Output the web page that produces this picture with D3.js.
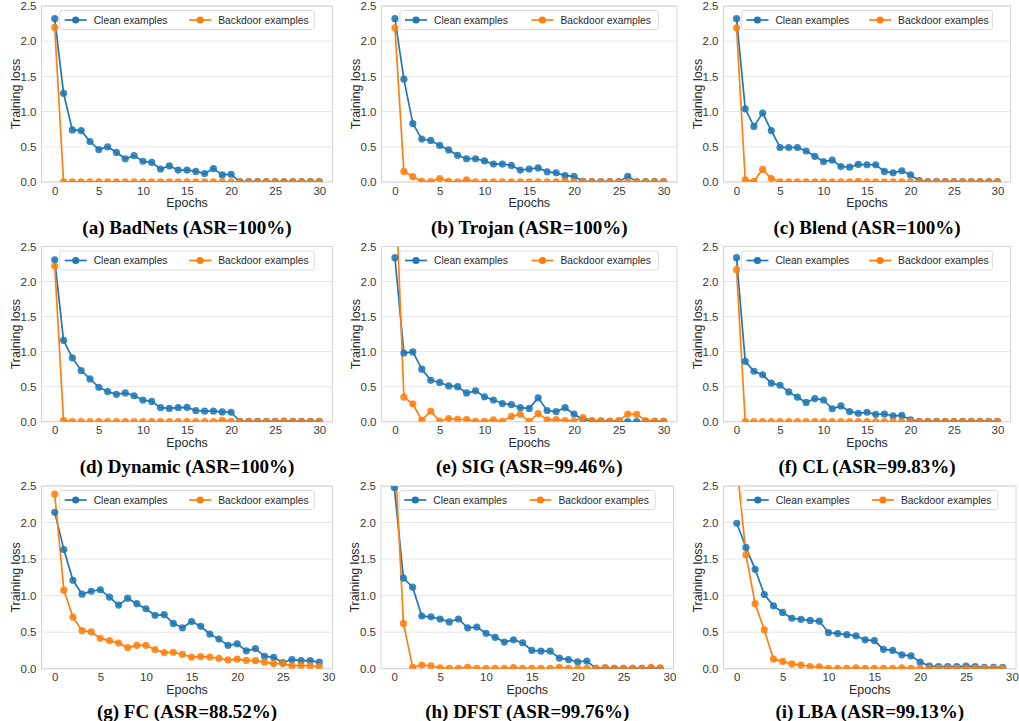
<!DOCTYPE html>
<html>
<head>
<meta charset="utf-8">
<script src="https://cdn.jsdelivr.net/npm/d3@7"></script>
<style>
  html, body { margin: 0; padding: 0; background: #fff; }
  svg { display: block; }
</style>
</head>
<body>
<svg id="chart" width="1019" height="721"></svg>
<script>
// ---------------- DATA ----------------
const captions = [
  "(a) BadNets (ASR=100%)", "(b) Trojan (ASR=100%)", "(c) Blend (ASR=100%)",
  "(d) Dynamic (ASR=100%)", "(e) SIG (ASR=99.46%)", "(f) CL (ASR=99.83%)",
  "(g) FC (ASR=88.52%)", "(h) DFST (ASR=99.76%)", "(i) LBA (ASR=99.13%)"
];
const seriesNames = ["Clean examples", "Backdoor examples"];
const yTicks = [0.0, 0.5, 1.0, 1.5, 2.0, 2.5];
const xTicks = [0, 5, 10, 15, 20, 25, 30];

const badnetsClean = [2.32,1.26,0.74,0.73,0.575,0.46,0.50,0.42,0.33,0.375,0.295,0.28,0.185,0.23,0.17,0.17,0.15,0.12,0.19,0.10,0.11,0.005,0.005,0.005,0.005,0.005,0.005,0.005,0.005,0.005,0.005];
const badnetsBackdoor = [2.195,0.003,0.003,0.003,0.003,0.003,0.003,0.003,0.003,0.003,0.003,0.003,0.003,0.003,0.003,0.003,0.003,0.003,0.003,0.003,0.003,0.003,0.003,0.003,0.003,0.003,0.003,0.003,0.003,0.003,0.003];

const trojanClean = [2.32,1.46,0.83,0.61,0.59,0.52,0.455,0.38,0.33,0.33,0.30,0.255,0.255,0.235,0.17,0.185,0.20,0.145,0.13,0.09,0.08,0.01,0.005,0.005,0.005,0.005,0.08,0.005,0.005,0.005,0.005];
const trojanBackdoor = [2.19,0.15,0.075,0.01,0.005,0.05,0.01,0.003,0.03,0.003,0.003,0.003,0.003,0.003,0.003,0.003,0.003,0.003,0.003,0.01,0.003,0.003,0.003,0.003,0.003,0.003,0.003,0.003,0.003,0.003,0.003];

const blendClean = [2.32,1.04,0.79,0.98,0.73,0.49,0.49,0.49,0.44,0.365,0.29,0.31,0.22,0.21,0.25,0.245,0.245,0.15,0.13,0.16,0.10,0.02,0.005,0.005,0.005,0.005,0.005,0.005,0.005,0.005,0.005];
const blendBackdoor = [2.19,0.03,0.01,0.18,0.05,0.003,0.003,0.003,0.003,0.003,0.003,0.003,0.003,0.003,0.01,0.003,0.003,0.003,0.003,0.003,0.003,0.003,0.003,0.003,0.003,0.003,0.003,0.003,0.003,0.003,0.003];

const dynamicClean = [2.31,1.16,0.91,0.73,0.61,0.49,0.43,0.39,0.41,0.37,0.31,0.29,0.20,0.19,0.20,0.205,0.16,0.15,0.15,0.14,0.135,0.005,0.005,0.005,0.005,0.005,0.005,0.005,0.005,0.005,0.005];
const dynamicBackdoor = [2.22,0.02,0.003,0.003,0.003,0.003,0.003,0.003,0.003,0.003,0.003,0.003,0.003,0.003,0.003,0.003,0.003,0.003,0.003,0.02,0.005,0.003,0.003,0.003,0.003,0.003,0.01,0.003,0.003,0.003,0.003];

const sigClean = [2.34,0.98,0.995,0.75,0.59,0.56,0.51,0.50,0.41,0.44,0.355,0.31,0.26,0.245,0.20,0.19,0.34,0.16,0.145,0.20,0.11,0.03,0.01,0.005,0.005,0.005,0.002,0.002,0.002,0.002,0.002];
const sigBackdoor = [3.6,0.35,0.255,0.02,0.15,0.01,0.045,0.035,0.03,0.005,0.005,0.025,0.005,0.075,0.105,0.005,0.115,0.025,0.03,0.015,0.01,0.06,0.015,0.015,0.01,0.015,0.11,0.105,0.015,0.01,0.01];

const clClean = [2.34,0.86,0.72,0.67,0.55,0.52,0.425,0.35,0.275,0.33,0.31,0.185,0.225,0.145,0.12,0.135,0.105,0.11,0.085,0.09,0.025,0.005,0.005,0.005,0.005,0.005,0.005,0.005,0.005,0.005,0.005];
const clBackdoor = [2.17,0.003,0.003,0.003,0.003,0.003,0.003,0.003,0.003,0.003,0.003,0.003,0.003,0.003,0.003,0.003,0.003,0.003,0.003,0.003,0.003,0.003,0.003,0.003,0.003,0.003,0.003,0.003,0.003,0.003,0.003];

const fcClean = [2.14,1.63,1.21,1.02,1.06,1.08,0.98,0.87,0.965,0.89,0.82,0.73,0.74,0.62,0.56,0.645,0.58,0.475,0.405,0.32,0.34,0.245,0.275,0.17,0.155,0.085,0.125,0.11,0.11,0.09];
const fcBackdoor = [2.39,1.075,0.705,0.52,0.505,0.415,0.385,0.35,0.29,0.32,0.32,0.26,0.22,0.225,0.195,0.16,0.165,0.16,0.14,0.12,0.13,0.115,0.11,0.09,0.07,0.07,0.04,0.045,0.04,0.03];

const dfstClean = [2.48,1.24,1.115,0.72,0.71,0.68,0.64,0.68,0.56,0.57,0.485,0.43,0.365,0.395,0.355,0.25,0.24,0.24,0.145,0.125,0.095,0.105,0.005,0.005,0.005,0.005,0.005,0.005,0.005,0.005];
const dfstBackdoor = [3.1,0.62,0.02,0.05,0.04,0.01,0.005,0.005,0.02,0.005,0.005,0.005,0.005,0.015,0.005,0.005,0.005,0.005,0.02,0.005,0.005,0.005,0.005,0.015,0.005,0.005,0.005,0.005,0.02,0.01];

const lbaClean = [1.99,1.66,1.36,1.015,0.86,0.77,0.69,0.675,0.66,0.65,0.495,0.48,0.465,0.45,0.395,0.385,0.265,0.25,0.19,0.175,0.09,0.035,0.03,0.03,0.03,0.035,0.03,0.02,0.02,0.02];
const lbaBackdoor = [2.8,1.56,0.89,0.53,0.13,0.10,0.065,0.05,0.03,0.025,0.005,0.005,0.005,0.01,0.005,0.005,0.005,0.005,0.01,0.005,0.005,0.005,0.005,0.005,0.005,0.005,0.005,0.005,0.005,0.005];

const panelSeries = [
  [badnetsClean, badnetsBackdoor], [trojanClean, trojanBackdoor], [blendClean, blendBackdoor],
  [dynamicClean, dynamicBackdoor], [sigClean, sigBackdoor], [clClean, clBackdoor],
  [fcClean, fcBackdoor], [dfstClean, dfstBackdoor], [lbaClean, lbaBackdoor]
];

// ---------------- LAYOUT ----------------
const colors = ["#1f77b4", "#ff7f0e"];
const rows = [
  {top: 6,     bottom: 182,   cap: 233.5, xd: [-1.5, 31.5],
   cols: [[41.5, 332.5], [381.5, 677], [723.5, 1010.5]]},
  {top: 246.5, bottom: 421.7, cap: 473,   xd: [-1.5, 31.5],
   cols: [[41.5, 332.5], [381.5, 677], [723.5, 1010.5]]},
  {top: 486,   bottom: 668.7, cap: 717.5, xd: [-1.45, 30.45],
   cols: [[41.5, 332.5], [381, 673.5], [723.5, 1016]]}
];
const sans = "'Liberation Sans', Arial, Helvetica, sans-serif";
const serif = "'Liberation Serif', 'Times New Roman', serif";

const svg = d3.select("#chart");
const defs = svg.append("defs");

panelSeries.forEach((series, p) => {
  const r = rows[Math.floor(p / 3)];
  const [x0, x1] = r.cols[p % 3];
  const x = d3.scaleLinear().domain(r.xd).range([x0, x1]);
  const y = d3.scaleLinear().domain([0, 2.5]).range([r.bottom, r.top]);
  const g = svg.append("g");

  // grid
  g.selectAll("line.grid").data(yTicks).join("line")
    .attr("x1", x0).attr("x2", x1)
    .attr("y1", d => y(d)).attr("y2", d => y(d))
    .attr("stroke", "#e6e6e6").attr("stroke-width", 1);

  // frame
  g.append("rect").attr("x", x0).attr("y", r.top).attr("width", x1 - x0).attr("height", r.bottom - r.top)
    .attr("fill", "none").attr("stroke", "#d6d6d6").attr("stroke-width", 1);

  // axes (D3 axis generators, no tick lines)
  const yAxis = d3.axisLeft(y).tickValues(yTicks).tickFormat(d3.format(".1f")).tickSize(0).tickPadding(5);
  const xAxis = d3.axisBottom(x).tickValues(xTicks).tickFormat(d3.format("d")).tickSize(0).tickPadding(4.5);
  const ya = g.append("g").attr("transform", `translate(${x0},0)`).call(yAxis);
  const xa = g.append("g").attr("transform", `translate(0,${r.bottom})`).call(xAxis);
  [ya, xa].forEach(a => {
    a.select(".domain").remove();
    a.selectAll("text").attr("font-family", sans).attr("font-size", 11.5).attr("fill", "#3a3a3a");
  });

  // axis titles
  g.append("text").attr("x", (x0 + x1) / 2).attr("y", r.bottom + 25)
    .attr("text-anchor", "middle").attr("font-family", sans).attr("font-size", 12.5).attr("fill", "#2a2a2a")
    .text("Epochs");
  g.append("text")
    .attr("transform", `translate(${x0 - 22},${(r.top + r.bottom) / 2}) rotate(-90)`)
    .attr("text-anchor", "middle").attr("font-family", sans).attr("font-size", 12.5).attr("fill", "#2a2a2a")
    .text("Training loss");

  // clip
  const cid = "clip" + p;
  defs.append("clipPath").attr("id", cid).append("rect")
    .attr("x", x0).attr("y", r.top).attr("width", x1 - x0).attr("height", r.bottom - r.top);
  const plot = g.append("g").attr("clip-path", `url(#${cid})`);

  const line = d3.line().x((d, i) => x(i)).y(d => y(d));
  series.forEach((vals, s) => {
    plot.append("path").datum(vals).attr("d", line)
      .attr("fill", "none").attr("stroke", colors[s]).attr("stroke-width", 1.7);
  });
  series.forEach((vals, s) => {
    plot.selectAll("circle.s" + s).data(vals).join("circle")
      .attr("cx", (d, i) => x(i)).attr("cy", d => y(d)).attr("r", 3.6)
      .attr("fill", colors[s]).attr("fill-opacity", 0.88);
  });

  // legend
  const lw = (x1 - x0) * 0.875, lx = (x0 + x1) / 2 - lw / 2, ly = r.top + 4.5;
  const lg = g.append("g").attr("transform", `translate(${lx},${ly})`);
  lg.append("rect").attr("width", lw).attr("height", 19).attr("rx", 2.5)
    .attr("fill", "#fff").attr("fill-opacity", 0.85).attr("stroke", "#dddddd");
  const offs = [5, 130 * lw / 255.7];
  seriesNames.forEach((name, s) => {
    const ox = offs[s];
    lg.append("line").attr("x1", ox).attr("x2", ox + 22).attr("y1", 9.5).attr("y2", 9.5)
      .attr("stroke", colors[s]).attr("stroke-width", 1.7);
    lg.append("circle").attr("cx", ox + 11).attr("cy", 9.5).attr("r", 3.6).attr("fill", colors[s]);
    lg.append("text").attr("x", ox + 29).attr("y", 13.4)
      .attr("font-family", sans).attr("font-size", 10.3).attr("fill", "#2a2a2a").text(name);
  });

  // caption
  g.append("text").attr("x", (x0 + x1) / 2).attr("y", r.cap)
    .attr("text-anchor", "middle").attr("font-family", serif).attr("font-weight", "bold")
    .attr("font-size", 19).attr("fill", "#000").text(captions[p]);
});
</script>
</body>
</html>
